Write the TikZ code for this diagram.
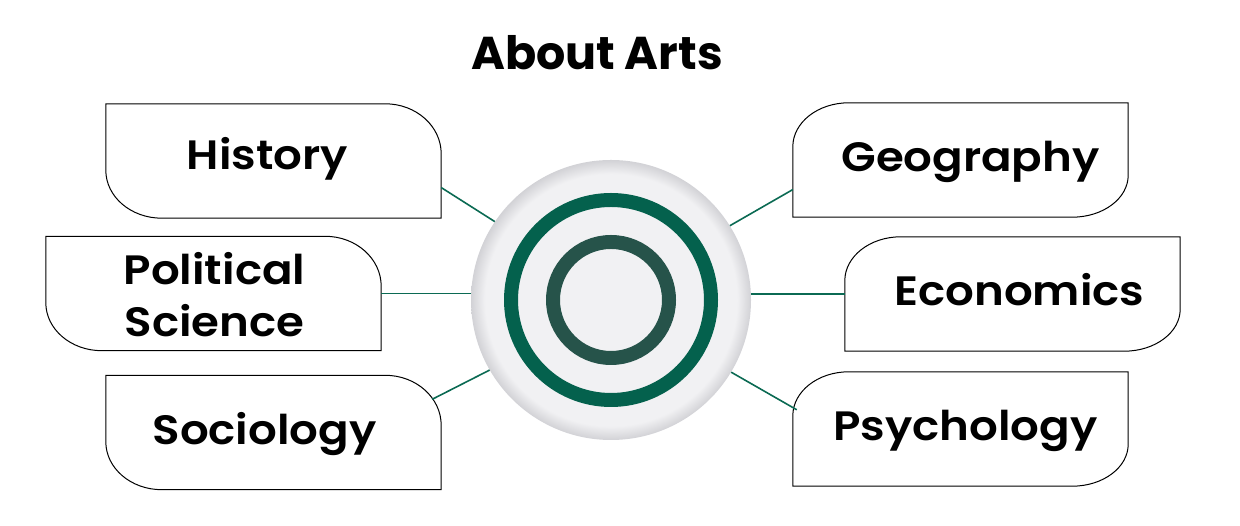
\documentclass[tikz,border=0pt]{standalone}
\usepackage{fontspec}
\setmainfont{Poppins}
\newfontfamily\cardfont{Poppins}[UprightFont={* SemiBold}, FakeStretch=1.1]
\usetikzlibrary{positioning}

\definecolor{linegreen}{HTML}{0B6A53}
\definecolor{ringgreen}{HTML}{04614D}
\definecolor{ringdark}{HTML}{26534A}
\definecolor{discgray}{HTML}{F1F1F3}
\definecolor{discedge}{HTML}{D2D2D6}

\pgfdeclareradialshading{discshade}{\pgfpoint{0bp}{0bp}}{%
  color(0bp)=(discgray); color(22.5bp)=(discgray); color(25bp)=(discedge); color(50bp)=(discedge)}

\tikzstyle{card} = [
    rectangle,
    minimum width=335pt,
    minimum height=114pt,
    inner sep=0pt
]
\tikzstyle{cardtext} = [
    font=\cardfont\fontsize{41}{52}\selectfont,
    anchor=base,
    align=center,
    inner sep=0pt
]
\tikzstyle{cardline} = [black, line width=1pt]
\tikzstyle{hub} = [
    circle,
    minimum size=280pt,
    inner sep=0pt,
    shading=discshade
]
\tikzstyle{ring} = [circle, inner sep=0pt, line width=14pt]
\tikzstyle{link} = [linegreen, line width=1.6pt]

\newcommand{\leftcard}[1]{%
  \draw [cardline] (#1.north west) -- ([xshift=-56pt]#1.north east)
    arc[start angle=90, end angle=0, x radius=56pt, y radius=50pt]
    -- (#1.south east) -- ([xshift=56pt]#1.south west)
    arc[start angle=270, end angle=180, x radius=56pt, y radius=48pt] -- cycle;}
\newcommand{\rightcard}[1]{%
  \draw [cardline] ([xshift=56pt]#1.north west) -- (#1.north east)
    -- ([yshift=42pt]#1.south east)
    arc[start angle=0, end angle=-90, x radius=56pt, y radius=42pt]
    -- (#1.south west) -- ([yshift=-44pt]#1.north west)
    arc[start angle=180, end angle=90, x radius=56pt, y radius=44pt] -- cycle;}

\begin{document}
\begin{tikzpicture}[x=1pt, y=1pt]
\useasboundingbox (0,0) rectangle (1240,526);

\node (title) [anchor=base, font=\bfseries\fontsize{46}{46}\selectfont] at (597,456) {About Arts};

\node (hub) [hub] at (611,226) {};
\node (outerring) [ring, draw=ringgreen, minimum size=200pt] at (hub.center) {};
\node (innerring) [ring, draw=ringdark, minimum size=116pt] at (hub.center) {};

\node (history) [card] at (273.5,365) {};
\node (political) [card] at (213.5,232.5) {};
\node (sociology) [card] at (273.5,93.5) {};
\node (geography) [card] at (960.5,366) {};
\node (economics) [card] at (1012.5,232) {};
\node (psychology) [card] at (960.5,97) {};

\leftcard{history}
\leftcard{political}
\leftcard{sociology}
\rightcard{geography}
\rightcard{economics}
\rightcard{psychology}

\node (historytxt) [cardtext] at ([xshift=-6pt, yshift=-9pt]history.center) {History};
\node (politicaltxt) [cardtext, anchor=center] at ([xshift=1pt, yshift=-1pt]political.center) {Political\\Science};
\node (sociologytxt) [cardtext] at ([xshift=-9pt, yshift=-12pt]sociology.center) {Sociology};
\node (geographytxt) [cardtext] at ([xshift=10pt, yshift=-12pt]geography.center) {Geography};
\node (economicstxt) [cardtext] at ([xshift=7pt, yshift=-12pt]economics.center) {Economics};
\node (psychologytxt) [cardtext] at ([xshift=5pt, yshift=-12pt]psychology.center) {Psychology};

\draw [link] (history.-9) -- (hub.146);
\draw [link] (political.east) -- (political.east -| hub.west);
\draw [link] ([shift={(-9pt,-24pt)}]sociology.north east) -- (hub.210);
\draw [link] (geography.190) -- (hub.32);
\draw [link] (economics.west) -- (economics.west -| hub.east);
\draw [link] ([shift={(4pt,-38pt)}]psychology.north west) -- (hub.-31);

\end{tikzpicture}
\end{document}
